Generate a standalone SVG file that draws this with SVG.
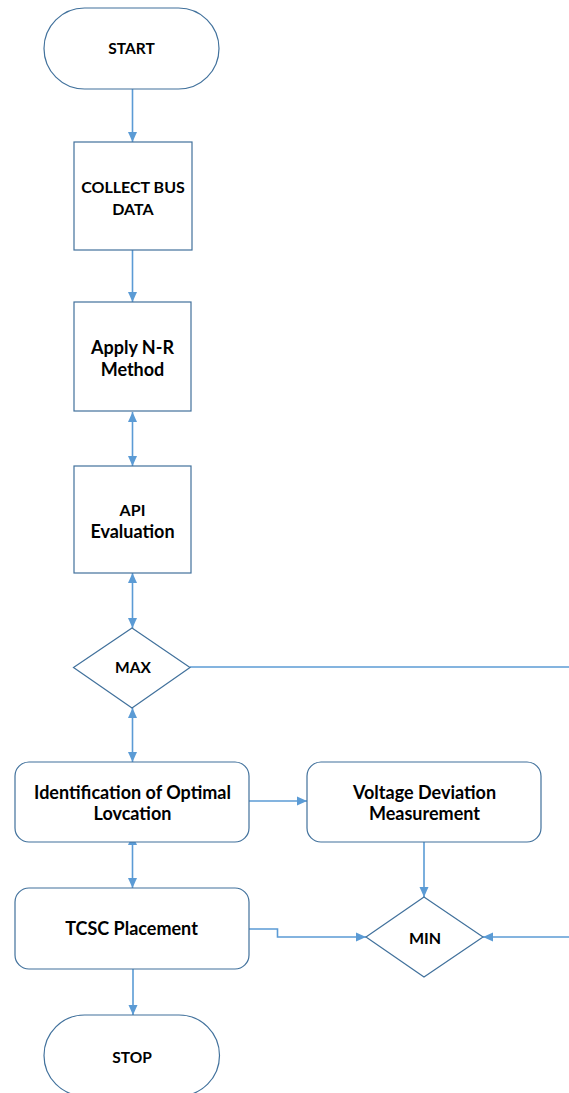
<svg xmlns="http://www.w3.org/2000/svg" width="569" height="1093" viewBox="0 0 569 1093">
<defs>
<marker id="ah" markerUnits="userSpaceOnUse" markerWidth="10" markerHeight="10" viewBox="0 0 10 10" refX="10" refY="5" orient="auto-start-reverse">
<path d="M0,0.5 L10,5 L0,9.5 Z" fill="#5B9BD5"/>
</marker>
</defs>
<style>
.shape{fill:#fff;stroke:#41719C;stroke-width:1.2}
.conn{fill:none;stroke:#5B9BD5;stroke-width:1.6}
.t{font-family:Lato,"Liberation Sans",sans-serif;font-weight:bold;font-size:18px;fill:#000;text-anchor:middle}
.c{font-size:16px}
.s{font-size:15.5px}
</style>
<rect width="569" height="1093" fill="#fff"/>
<g id="connectors">
<line class="conn" x1="132.5" y1="89" x2="132.5" y2="142" marker-end="url(#ah)"/>
<line class="conn" x1="132.5" y1="250" x2="132.5" y2="302" marker-end="url(#ah)"/>
<line class="conn" x1="132.5" y1="412" x2="132.5" y2="466" marker-start="url(#ah)" marker-end="url(#ah)"/>
<line class="conn" x1="132.5" y1="573" x2="132.5" y2="628" marker-start="url(#ah)" marker-end="url(#ah)"/>
<line class="conn" x1="190" y1="667" x2="569" y2="667"/>
<line class="conn" x1="132.5" y1="708" x2="132.5" y2="762" marker-start="url(#ah)" marker-end="url(#ah)"/>
<line class="conn" x1="249" y1="801" x2="307" y2="801" marker-end="url(#ah)"/>
<line class="conn" x1="132.5" y1="835" x2="132.5" y2="888" marker-start="url(#ah)" marker-end="url(#ah)"/>
<line class="conn" x1="424" y1="842" x2="424" y2="897" marker-end="url(#ah)"/>
<polyline class="conn" points="249,929 277.5,929 277.5,937 366,937" marker-end="url(#ah)"/>
<line class="conn" x1="569" y1="937" x2="483" y2="937" marker-end="url(#ah)"/>
<line class="conn" x1="133" y1="962" x2="133" y2="1015" marker-end="url(#ah)"/>
</g>
<g id="start">
<rect class="shape" x="44" y="8" width="175" height="81" rx="40.5" ry="40.5"/>
<text class="t s" x="131.5" y="54">START</text>
</g>
<g id="collect">
<rect class="shape" x="74" y="142" width="118" height="108"/>
<text class="t c" x="133" y="193">COLLECT BUS</text>
<text class="t c" x="133" y="215">DATA</text>
</g>
<g id="nr">
<rect class="shape" x="74" y="302" width="117" height="109"/>
<text class="t" x="132.5" y="354">Apply N-R</text>
<text class="t" x="132.5" y="376">Method</text>
</g>
<g id="api">
<rect class="shape" x="74" y="466" width="117" height="107"/>
<text class="t c" x="132.5" y="516">API</text>
<text class="t" x="132.5" y="538">Evaluation</text>
</g>
<g id="max">
<polygon class="shape" points="132,628 190,667.5 132,708 73.5,667.5"/>
<text class="t s" x="133" y="673">MAX</text>
</g>
<g id="ident">
<rect class="shape" x="15" y="762" width="234" height="80" rx="14" ry="14"/>
<text class="t" x="132.5" y="799">Identification of Optimal</text>
<text class="t" x="132.5" y="820">Lovcation</text>
</g>
<g id="voltage">
<rect class="shape" x="307" y="762" width="234" height="80" rx="14" ry="14"/>
<text class="t" x="424.5" y="799">Voltage Deviation</text>
<text class="t" x="424.5" y="820">Measurement</text>
</g>
<g id="tcsc">
<rect class="shape" x="15" y="888" width="234" height="81" rx="14" ry="14"/>
<text class="t" x="131.5" y="935">TCSC Placement</text>
</g>
<g id="min">
<polygon class="shape" points="424,897 483,937 424,977 366,937"/>
<text class="t c" x="425" y="944">MIN</text>
</g>
<g id="stop">
<rect class="shape" x="44" y="1015" width="175.5" height="81" rx="40.5" ry="40.5"/>
<text class="t s" x="132" y="1063">STOP</text>
</g>
</svg>
